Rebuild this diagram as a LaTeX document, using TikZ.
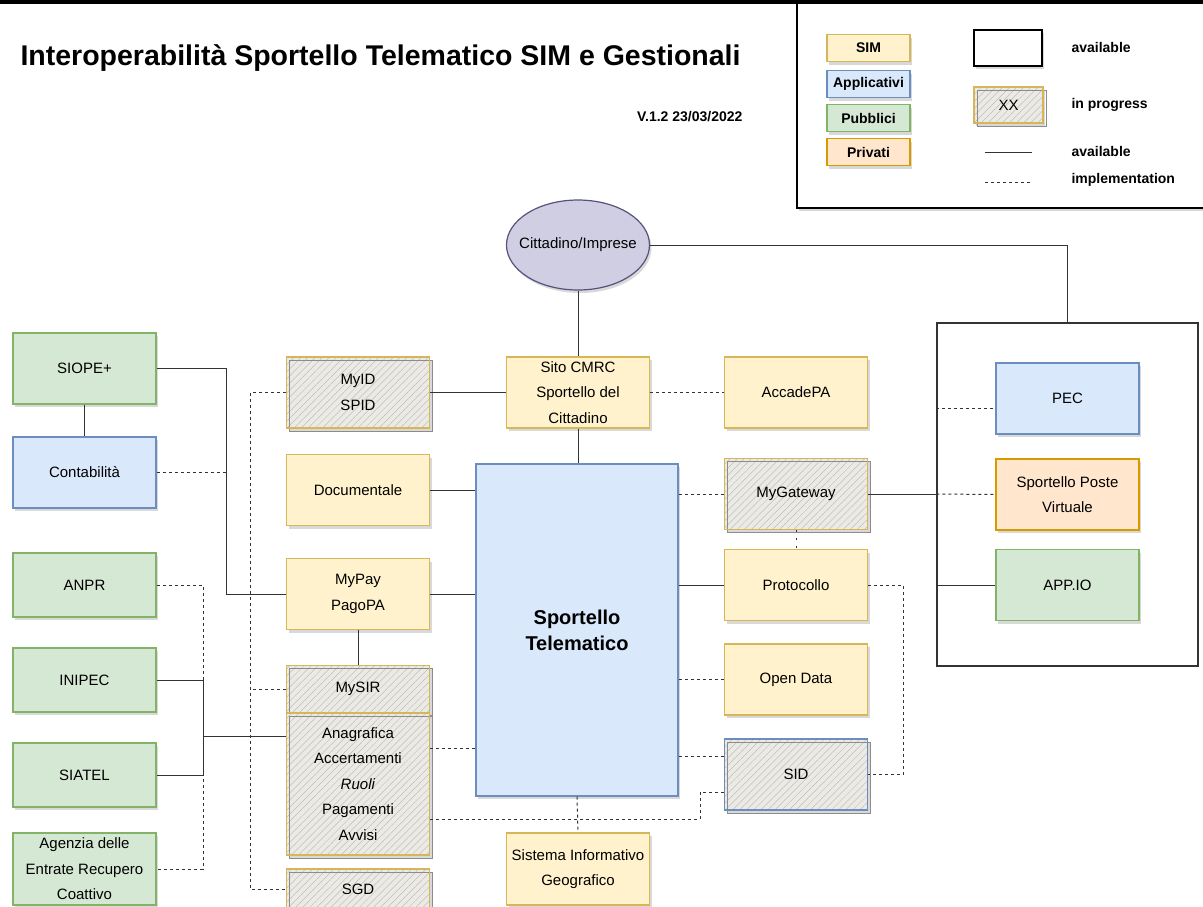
\documentclass[tikz,border=0pt]{standalone}
\usepackage{fontspec}
\setmainfont{Liberation Sans}
\usetikzlibrary{positioning,shapes.geometric,shadows,patterns.meta}

\definecolor{simfill}{HTML}{FFF2CC}
\definecolor{simline}{HTML}{D6B656}
\definecolor{appfill}{HTML}{DAE8FC}
\definecolor{appline}{HTML}{6C8EBF}
\definecolor{pubfill}{HTML}{D5E8D4}
\definecolor{publine}{HTML}{82B366}
\definecolor{privfill}{HTML}{FFE6CC}
\definecolor{privline}{HTML}{D79B00}
\definecolor{userfill}{HTML}{D0CEE2}
\definecolor{userline}{HTML}{56517E}
\definecolor{wipfill}{HTML}{ECEAE4}
\definecolor{linkcol}{HTML}{333333}

\tikzset{
  shade/.style={drop shadow={shadow xshift=2pt, shadow yshift=-3pt, opacity=0.25, fill=black!60}},
  base/.style={shade, line width=1.2pt, minimum width=143pt, minimum height=71pt,
    align=center, inner sep=2pt, font=\fontsize{15}{25.5}\selectfont},
  sim/.style={base, draw=simline, fill=simfill},
  app/.style={base, draw=appline, fill=appfill},
  pub/.style={base, draw=publine, fill=pubfill},
  priv/.style={base, draw=privline, fill=privfill},
  wip/.style={base, draw=#1,
    preaction={fill=wipfill},
    preaction={pattern={Lines[angle=45, distance=5pt, line width=0.5pt]}, pattern color=black!25},
    preaction={draw=black!45, line width=0.6pt, transform canvas={shift={(3pt,-3pt)}}}},
  wip/.default=simline,
  legtext/.style={anchor=west, font=\bfseries\fontsize{14}{16}\selectfont},
  link/.style={draw=linkcol, line width=1pt},
  impl/.style={link, dash pattern=on 3pt off 3pt},
}

\begin{document}
\begin{tikzpicture}[x=1pt, y=-1pt]
  \useasboundingbox (0,0) rectangle (1203,906);

  % legend
  \draw[line width=1.2pt, fill=white, shade] (797,2) rectangle (1215,208);
  \draw[line width=4pt] (0,2) -- (1203,2);
  \foreach \lab/\sty/\yy in {SIM/sim/48, Applicativi/app/84, Pubblici/pub/118, Privati/priv/152}
    \node[\sty, minimum width=83pt, minimum height=27pt, font=\bfseries\fontsize{14}{16}\selectfont] (leg\lab) at (868.5,\yy) {\lab};
  \node[draw=black, line width=1.2pt, fill=white, shade, minimum width=68pt, minimum height=36pt] (legok) at (1008,48) {};
  \node[wip, minimum width=69pt, minimum height=36pt, font=\fontsize{15}{17}\selectfont] (legwip) at (1008.5,105) {XX};
  \node[legtext] (legoktext) at (1068,47) {available};
  \node[legtext] (legwiptext) at (1068,105) {in progress};
  \node[legtext] (leglinktext) at (1068,151) {available};
  \node[legtext] (legimpltext) at (1068,180) {implementation};
  \coordinate (solidA) at (985,152);
  \coordinate (solidB) at (1032,152);
  \coordinate (dashA) at (985,182);
  \coordinate (dashB) at (1032,182);
  \draw[link] (solidA) -- (solidB);
  \draw[impl] (dashA) -- (dashB);

  \node[anchor=west, font=\bfseries\fontsize{28.5}{32}\selectfont] (title) at (17,58)
    {Interoperabilità Sportello Telematico SIM e Gestionali};
  \node[anchor=east, font=\bfseries\fontsize{14}{16}\selectfont] (version) at (746,117) {V.1.2 23/03/2022};

  % left column
  \node[pub] (siope) at (84.5,368.5) {SIOPE+};
  \node[app] (conta) at (84.5,472.5) {Contabilità};
  \node[pub, minimum height=64pt] (anpr) at (84.5,585) {ANPR};
  \node[pub, minimum height=64pt] (inipec) at (84.5,680) {INIPEC};
  \node[pub, minimum height=64pt] (siatel) at (84.5,775) {SIATEL};
  \node[pub, minimum height=72pt] (agenzia) at (84.5,869) {Agenzia delle\\Entrate Recupero\\Coattivo};

  % SIM column
  \node[wip] (myid) at (358,392.5) {MyID\\SPID};
  \node[sim] (docum) at (358,490) {Documentale};
  \node[sim] (mypay) at (358,594) {MyPay\\PagoPA};
  \node[wip, minimum height=47pt] (mysir) at (358,689) {MySIR};
  \node[wip, minimum height=142pt] (anagr) at (358,784) {Anagrafica\\Accertamenti\\\textit{Ruoli}\\Pagamenti\\Avvisi};
  \node[wip, minimum height=40pt] (sgd) at (358,889) {SGD};

  % centre
  \node[ellipse, shade, draw=userline, fill=userfill, line width=1.2pt, inner sep=0pt, minimum width=143pt,
    minimum height=90pt, font=\fontsize{15}{17}\selectfont] (cittadino) at (578,245) {\makebox[0pt]{Cittadino/Imprese}};
  \node[sim] (sito) at (578,392.5) {Sito CMRC\\Sportello del\\Cittadino};
  \node[app, minimum width=202pt, minimum height=332pt, font=\bfseries\fontsize{20}{26}\selectfont] (sportello) at (577,630) {Sportello\\Telematico};
  \node[sim, minimum height=72pt] (sig) at (578,869) {Sistema Informativo\\Geografico};

  % right of the centre
  \node[sim] (accade) at (796,392.5) {AccadePA};
  \node[wip] (mygw) at (796,494) {MyGateway};
  \node[sim] (proto) at (796,585) {Protocollo};
  \node[sim] (opendata) at (796,679.5) {Open Data};
  \node[wip=appline] (sid) at (796,774.5) {SID};

  % external services
  \node[draw=linkcol, line width=1.2pt, fill=white, minimum width=261pt, minimum height=343pt] (cont) at (1067.5,494.5) {};
  \node[app] (pec) at (1067.5,398.5) {PEC};
  \node[priv] (poste) at (1067.5,494.5) {Sportello Poste\\Virtuale};
  \node[pub] (appio) at (1067.5,585) {APP.IO};

  % connectors
  \coordinate (busPay) at (226,0);
  \coordinate (busGov) at (203,0);
  \coordinate (busId) at (250,0);
  \coordinate (sidJog) at (700,0);

  \draw[link] (siope.east) -| (busPay |- mypay.west) -- (mypay.west);
  \draw[link] (siope.south) -- (conta.north);
  \draw[impl] (conta.east) -- (conta.east -| busPay);
  \draw[impl] (anpr.east) -| (busGov |- agenzia.east) -- (agenzia.east);
  \draw[link] (inipec.east) -| (busGov |- siatel.east) -- (siatel.east);
  \draw[link] (busGov |- 0,736) -- (anagr.west |- 0,736);
  \draw[impl] (myid.west) -| (busId |- sgd.west) -- (sgd.west);
  \draw[impl] (mysir.west) -- (mysir.west -| busId);
  \draw[link] (mypay.south) -- (mysir.north);

  \draw[link] (cittadino.south) -- (sito.north);
  \draw[link] (cittadino.east) -| (cont.north);
  \draw[link] (myid.east) -- (sito.west);
  \draw[impl] (sito.east) -- (accade.west);
  \draw[link] (sito.south) -- (sito.south |- sportello.north);
  \draw[link] (docum.east) -- (docum.east -| sportello.west);
  \draw[link] (mypay.east) -- (mypay.east -| sportello.west);
  \draw[impl] (anagr.east |- 0,748) -- (sportello.west |- 0,748);
  \draw[impl] (anagr.east |- 0,819) -| (sidJog |- 0,792) -- (sid.west |- 0,792);
  \draw[impl] (sportello.south) -- (sig.north);

  \draw[impl] (sportello.east |- mygw.west) -- (mygw.west);
  \draw[link] (sportello.east |- proto.west) -- (proto.west);
  \draw[impl] (sportello.east |- opendata.west) -- (opendata.west);
  \draw[impl] (sportello.east |- 0,756) -- (sid.west |- 0,756);
  \draw[link, dash pattern=on 2pt off 6pt] (mygw.south) -- (proto.north);
  \draw[impl] (proto.east) -- ++(35,0) |- (sid.east);

  \draw[link] (mygw.east) -- (mygw.east -| cont.west);
  \draw[impl] (mygw.east -| cont.west) -- (poste.west);
  \draw[impl] (cont.west |- 0,408) -- (pec.west |- 0,408);
  \draw[link] (cont.west |- appio.west) -- (appio.west);
\end{tikzpicture}
\end{document}
